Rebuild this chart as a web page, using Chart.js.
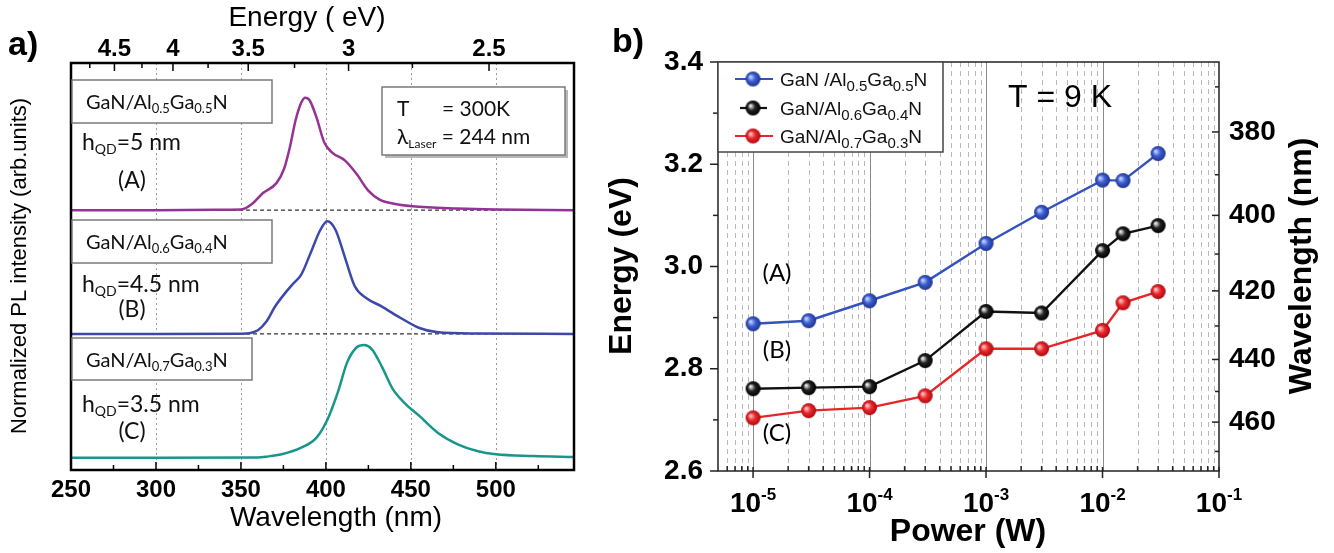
<!DOCTYPE html>
<html><head><meta charset="utf-8">
<script src="https://cdn.jsdelivr.net/npm/chart.js@4.4.1/dist/chart.umd.min.js"></script>
<style>
html,body{margin:0;padding:0;background:#fff;}
#wrap{position:relative;width:1334px;height:553px;overflow:hidden;background:#fff;}
#ca{position:absolute;left:0;top:0;}
#cb{position:absolute;left:600px;top:0;}
</style></head>
<body><div id="wrap"><canvas id="ca" width="600" height="553"></canvas><canvas id="cb" width="734" height="553"></canvas></div>
<script>
// ---------------- Panel a data: normalized PL spectra ----------------
const wlA = [250, 300, 335, 350.2, 356.3, 363, 370.9, 375.4, 378.8, 382.1, 385.5, 387.8, 390.4, 394.5, 399, 403.5, 411.3, 418, 424.8, 431.6, 439.4, 450.7, 477.6, 500, 546];
const plA = [0, 0, 0.004, 0.006, 0.048, 0.139, 0.219, 0.335, 0.509, 0.723, 0.87, 0.91, 0.889, 0.749, 0.549, 0.468, 0.401, 0.294, 0.161, 0.086, 0.054, 0.032, 0.013, 0.005, 0];
const wlB = [250, 300, 350, 355, 360, 365, 370, 376, 381, 385.5, 391, 396.7, 400.8, 405.7, 411, 417, 423.7, 432.7, 444, 455, 466, 489, 546];
const plB = [0, 0, 0.002, 0.006, 0.03, 0.1, 0.22, 0.33, 0.41, 0.48, 0.654, 0.84, 0.91, 0.84, 0.627, 0.385, 0.29, 0.223, 0.129, 0.048, 0.013, 0.003, 0];
const wlC = [250, 300, 360, 365, 374, 385.5, 394.5, 401, 407, 412.5, 418, 422.6, 427, 432.7, 439.4, 446, 455, 466, 477.6, 489, 500, 522, 546];
const plC = [0, 0, 0.002, 0.008, 0.027, 0.08, 0.162, 0.31, 0.527, 0.77, 0.89, 0.91, 0.877, 0.742, 0.553, 0.445, 0.337, 0.2, 0.108, 0.054, 0.027, 0.013, 0.005];
const stackOffsets = [2, 1, 0];            // vertical offsets of spectra A, B, C
const wlMajor = [250, 300, 350, 400, 450, 500];
const wlMinor = [275, 325, 375, 425, 475, 525];
const eMajorTop = [4.5, 4, 3.5, 3, 2.5];
const eMinorTop = [4.75, 4.25, 3.75, 3.25, 2.75];
const HC = 1240; // eV*nm

// ---------------- Panel b data: peak energy vs power ----------------
const powerW = [1e-5, 3e-5, 1e-4, 3e-4, 1e-3, 3e-3, 1e-2, 1.5e-2, 3e-2];
const energyA = [2.888, 2.894, 2.933, 2.969, 3.045, 3.106, 3.169, 3.168, 3.221];
const energyB = [2.761, 2.763, 2.765, 2.816, 2.912, 2.909, 3.031, 3.064, 3.080];
const energyC = [2.704, 2.718, 2.724, 2.747, 2.839, 2.839, 2.875, 2.929, 2.951];
const energyTicks = [2.6, 2.8, 3.0, 3.2, 3.4];
const energyMinor = [2.7, 2.9, 3.1, 3.3];
const lambdaTicks = [380, 400, 420, 440, 460];
const lambdaMinor = [370, 390, 410, 430, 450, 470];
const decades = [1e-5, 1e-4, 1e-3, 1e-2, 1e-1];
const decadeExp = ['-5', '-4', '-3', '-2', '-1'];

const FA = '"Liberation Sans", Arial, sans-serif';
const FL = 'Lato, "Open Sans", sans-serif';
const colA = 'rgb(150,50,150)', colB = 'rgb(60,72,170)', colC = 'rgb(25,150,140)';
const colBlue = 'rgb(52,82,190)', colBlack = '#111', colRed = 'rgb(232,38,42)';

function drawRich(ctx, x, y, parts, align) {
  let w = 0;
  parts.forEach(p => { ctx.font = p.f; p.w = ctx.measureText(p.t).width; w += p.w; });
  let cx = align === 'center' ? x - w / 2 : (align === 'right' ? x - w : x);
  ctx.textAlign = 'left'; ctx.textBaseline = 'alphabetic';
  parts.forEach(p => { ctx.font = p.f; ctx.fillText(p.t, cx, y + (p.dy || 0)); cx += p.w; });
}
function vText(ctx, text, x, y, font, rot) {
  ctx.save(); ctx.translate(x, y); ctx.rotate(rot); ctx.font = font;
  ctx.textAlign = 'center'; ctx.textBaseline = 'middle'; ctx.fillText(text, 0, 0); ctx.restore();
}
function line(ctx, x1, y1, x2, y2) { ctx.beginPath(); ctx.moveTo(x1, y1); ctx.lineTo(x2, y2); ctx.stroke(); }
function box(ctx, x1, y1, x2, y2, shadow, stroke) {
  if (shadow) { ctx.fillStyle = 'rgba(0,0,0,0.28)'; ctx.fillRect(x1 + 3, y1 + 3, x2 - x1, y2 - y1); }
  ctx.fillStyle = '#fff'; ctx.fillRect(x1, y1, x2 - x1, y2 - y1);
  ctx.strokeStyle = stroke || '#7a7a7a'; ctx.lineWidth = 1.5; ctx.setLineDash([]);
  ctx.strokeRect(x1, y1, x2 - x1, y2 - y1);
}

// ---------------- Panel a ----------------
const panelA = {
  id: 'panelA',
  beforeDatasetsDraw(chart) {
    const {ctx, chartArea: a, scales} = chart;
    ctx.save();
    ctx.strokeStyle = '#9a9a9a'; ctx.lineWidth = 1; ctx.setLineDash([2, 3]);
    wlMajor.slice(1).forEach(v => { const x = Math.round(scales.x.getPixelForValue(v)) + 0.5; line(ctx, x, a.top, x, a.bottom); });
    ctx.strokeStyle = '#333'; ctx.lineWidth = 1.2; ctx.setLineDash([4, 3]);
    [stackOffsets[0], stackOffsets[1]].forEach(o => { const y = scales.y.getPixelForValue(o); line(ctx, a.left, y, a.right, y); });
    ctx.restore();
  },
  afterDatasetsDraw(chart) {
    const {ctx, chartArea: a, scales} = chart;
    ctx.save();
    ctx.setLineDash([]); ctx.strokeStyle = '#000'; ctx.lineWidth = 1.5;
    wlMajor.forEach(v => { const x = scales.x.getPixelForValue(v); line(ctx, x, a.bottom, x, a.bottom - 8); });
    wlMinor.forEach(v => { const x = scales.x.getPixelForValue(v); line(ctx, x, a.bottom, x, a.bottom - 5); });
    eMajorTop.forEach(e => { const x = scales.x.getPixelForValue(HC / e); line(ctx, x, a.top, x, a.top + 8); });
    eMinorTop.forEach(e => { const x = scales.x.getPixelForValue(HC / e); line(ctx, x, a.top, x, a.top + 5); });
    ctx.lineWidth = 2.5; ctx.strokeRect(a.left, a.top, a.right - a.left, a.bottom - a.top);
    // boxes
    box(ctx, 72, 80, 272, 123);
    box(ctx, 72, 220, 272, 263);
    box(ctx, 72, 338, 252, 380);
    box(ctx, 382, 87, 565, 155, true);
    ctx.fillStyle = '#111';
    const big = '20px ' + FL, sub = '13px ' + FL;
    drawRich(ctx, 86, 109, [{t: 'GaN/Al', f: big}, {t: '0.5', f: sub, dy: 4}, {t: 'Ga', f: big}, {t: '0.5', f: sub, dy: 4}, {t: 'N', f: big}]);
    drawRich(ctx, 86, 249, [{t: 'GaN/Al', f: big}, {t: '0.6', f: sub, dy: 4}, {t: 'Ga', f: big}, {t: '0.4', f: sub, dy: 4}, {t: 'N', f: big}]);
    drawRich(ctx, 86, 367, [{t: 'GaN/Al', f: big}, {t: '0.7', f: sub, dy: 4}, {t: 'Ga', f: big}, {t: '0.3', f: sub, dy: 4}, {t: 'N', f: big}]);
    const hf = '23px ' + FL, hs = '14px ' + FL;
    drawRich(ctx, 82, 150, [{t: 'h', f: hf}, {t: 'QD', f: hs, dy: 4}, {t: '=5 nm', f: hf}]);
    drawRich(ctx, 82, 292, [{t: 'h', f: hf}, {t: 'QD', f: hs, dy: 4}, {t: '=4.5 nm', f: hf}]);
    drawRich(ctx, 82, 412, [{t: 'h', f: hf}, {t: 'QD', f: hs, dy: 4}, {t: '=3.5 nm', f: hf}]);
    ctx.font = '23px ' + FL; ctx.textAlign = 'center'; ctx.textBaseline = 'middle';
    ctx.fillText('(A)', 132, 181); ctx.fillText('(B)', 132, 310); ctx.fillText('(C)', 132, 432);
    const tf = '21px ' + FL, ts = '12px ' + FL;
    drawRich(ctx, 397, 116, [{t: 'T', f: tf}]);
    drawRich(ctx, 442, 116, [{t: '= 300K', f: tf}]);
    drawRich(ctx, 397, 144, [{t: '\u03bb', f: tf}, {t: 'Laser', f: ts, dy: 4}, {t: ' = 244 nm', f: tf}]);
    // titles
    ctx.fillStyle = '#000';
    vText(ctx, 'Energy ( eV)', 307, 18, '28px ' + FA, 0);
    vText(ctx, 'Wavelength (nm)', 336, 518, '28px ' + FA, 0);
    vText(ctx, 'Normalized PL intensity (arb.units)', 20, 266, '22px ' + FA, -Math.PI / 2);
    ctx.font = 'bold 34px ' + FA; ctx.textAlign = 'left'; ctx.textBaseline = 'alphabetic';
    ctx.fillText('a)', 8, 55);
    ctx.restore();
  }
};

function spectrum(wl, pl, off, col) {
  return {data: wl.map((w, i) => ({x: w, y: pl[i] + off})), borderColor: col, borderWidth: 2.5,
          pointRadius: 0, tension: 0.4, cubicInterpolationMode: 'monotone', fill: false};
}

new Chart(document.getElementById('ca'), {
  type: 'line',
  data: {datasets: [spectrum(wlA, plA, stackOffsets[0], colA), spectrum(wlB, plB, stackOffsets[1], colB), spectrum(wlC, plC, stackOffsets[2], colC)]},
  options: {
    responsive: false, animation: false, devicePixelRatio: 1,
    layout: {padding: {left: 0, right: 26, top: 0, bottom: 0}},
    plugins: {legend: {display: false}, tooltip: {enabled: false}},
    scales: {
      x: {type: 'linear', position: 'bottom', min: 250, max: 546,
          afterBuildTicks: s => { s.ticks = wlMajor.concat(wlMinor).sort((p, q) => p - q).map(v => ({value: v})); },
          afterFit: s => { s.height = 83; },
          ticks: {autoSkip: false, maxRotation: 0, padding: 6, color: '#000', font: {family: FA, size: 24, weight: 'bold'},
                  callback: v => wlMajor.includes(v) ? String(v) : ''},
          grid: {display: false, drawTicks: false}, border: {display: false}},
      xt: {type: 'linear', axis: 'x', position: 'top', min: 250, max: 546,
          afterBuildTicks: s => { s.ticks = eMajorTop.concat(eMinorTop).map(e => ({value: HC / e})).sort((p, q) => p.value - q.value); },
          afterFit: s => { s.height = 63; },
          ticks: {autoSkip: false, maxRotation: 0, padding: -1, color: '#000', font: {family: FA, size: 24, weight: 'bold'},
                  callback: v => { const e = eMajorTop.find(E => Math.abs(HC / E - v) < 1e-6); return e === undefined ? '' : String(e); }},
          grid: {display: false, drawTicks: false}, border: {display: false}},
      y: {type: 'linear', min: -0.1, max: 3.19, ticks: {display: false},
          afterFit: s => { s.width = 71; },
          grid: {display: false, drawTicks: false}, border: {display: false}}
    }
  },
  plugins: [panelA]
});

// ---------------- Panel b ----------------
function ball(color, hi, dark, r) {
  const s = 2 * r + 2, c = document.createElement('canvas'); c.width = s; c.height = s;
  const g = c.getContext('2d');
  const gr = g.createRadialGradient(s / 2 - r * 0.35, s / 2 - r * 0.3, r * 0.1, s / 2, s / 2, r);
  gr.addColorStop(0, hi); gr.addColorStop(0.45, color); gr.addColorStop(1, dark);
  g.fillStyle = gr; g.beginPath(); g.arc(s / 2, s / 2, r, 0, Math.PI * 2); g.fill();
  return c;
}
const ballBlue = ball('rgb(60,95,210)', 'rgb(190,205,255)', 'rgb(30,50,140)', 7.5);
const ballBlack = ball('#222', '#e8e8e8', '#000', 7.5);
const ballRed = ball('rgb(235,40,45)', 'rgb(255,190,190)', 'rgb(170,10,15)', 7.5);

const panelB = {
  id: 'panelB',
  beforeDatasetsDraw(chart) {
    const {ctx, chartArea: a, scales} = chart;
    ctx.save();
    ctx.lineWidth = 1;
    ctx.strokeStyle = '#b8b8b8'; ctx.setLineDash([5, 4]);
    for (let d = 1e-6; d < 0.1; d *= 10) {
      for (let k = 2; k <= 9; k++) {
        const v = k * d; if (v < 5e-6 || v > 0.1) continue;
        const x = Math.round(scales.x.getPixelForValue(v)) + 0.5; line(ctx, x, a.top, x, a.bottom);
      }
    }
    ctx.strokeStyle = '#8a8a8a'; ctx.setLineDash([]);
    decades.slice(0, 4).forEach(v => { const x = Math.round(scales.x.getPixelForValue(v)) + 0.5; line(ctx, x, a.top, x, a.bottom); });
    ctx.restore();
  },
  afterDatasetsDraw(chart) {
    const {ctx, chartArea: a, scales} = chart;
    ctx.save();
    ctx.setLineDash([]); ctx.strokeStyle = '#222'; ctx.lineWidth = 1.5;
    ctx.strokeRect(a.left, a.top, a.right - a.left, a.bottom - a.top);
    // bottom ticks
    decades.forEach(v => { const x = scales.x.getPixelForValue(v); line(ctx, x, a.bottom - 4, x, a.bottom + 7); });
    for (let d = 1e-6; d < 0.1; d *= 10) for (let k = 2; k <= 9; k++) {
      const v = k * d; if (v < 5e-6 || v > 0.1) continue;
      const x = scales.x.getPixelForValue(v); line(ctx, x, a.bottom, x, a.bottom - 5);
    }
    // left ticks (outward)
    energyTicks.forEach(v => { const y = scales.y.getPixelForValue(v); line(ctx, a.left - 8, y, a.left, y); });
    energyMinor.forEach(v => { const y = scales.y.getPixelForValue(v); line(ctx, a.left - 5, y, a.left, y); });
    // right ticks (inward)
    lambdaTicks.forEach(l => { const y = scales.y2.getPixelForValue(HC / l); line(ctx, a.right - 7, y, a.right, y); });
    lambdaMinor.forEach(l => { const y = scales.y2.getPixelForValue(HC / l); line(ctx, a.right - 4, y, a.right, y); });
    // bottom tick labels 10^n
    ctx.fillStyle = '#000';
    decades.forEach((v, i) => {
      const x = scales.x.getPixelForValue(v);
      drawRich(ctx, x, 512, [{t: '10', f: 'bold 28px ' + FA}, {t: decadeExp[i], f: 'bold 17px ' + FA, dy: -12}], 'center');
    });
    // legend (local canvas coordinates)
    box(ctx, a.left, a.top, 343, 152, false, '#444');
    const items = [[colBlue, ballBlue, 'GaN /Al', '0.5', '0.5', 79, 135, 173],
                   [colBlack, ballBlack, 'GaN/Al', '0.6', '0.4', 108, 140, 167],
                   [colRed, ballRed, 'GaN/Al', '0.7', '0.3', 136, 135, 173]];
    items.forEach(([c, img, pre, s1, s2, y, x1, x2]) => {
      ctx.strokeStyle = c; ctx.lineWidth = 2.2; line(ctx, x1, y, x2, y);
      ctx.drawImage(img, 153 - img.width / 2, y - img.height / 2);
      ctx.fillStyle = '#111';
      const m = '19px ' + FA, sb = '15px ' + FA;
      drawRich(ctx, 180, y + 7, [{t: pre, f: m}, {t: s1, f: sb, dy: 5}, {t: 'Ga', f: m}, {t: s2, f: sb, dy: 5}, {t: 'N', f: m}]);
    });
    // annotations
    ctx.fillStyle = '#000';
    ctx.font = '32px ' + FA; ctx.textAlign = 'center'; ctx.textBaseline = 'middle';
    ctx.fillText('T = 9 K', 460, 98);
    ctx.font = '24px ' + FL;
    ctx.fillText('(A)', 177, 273); ctx.fillText('(B)', 177, 350); ctx.fillText('(C)', 177, 433);
    // titles
    vText(ctx, 'Energy (eV)', 22, 266, 'bold 32px ' + FA, -Math.PI / 2);
    vText(ctx, 'Power (W)', 368, 532, 'bold 32px ' + FA, 0);
    vText(ctx, 'Wavelength (nm)', 702, 266, 'bold 32px ' + FA, -Math.PI / 2);
    ctx.font = 'bold 34px ' + FA; ctx.textAlign = 'left'; ctx.textBaseline = 'alphabetic';
    ctx.fillText('b)', 12, 52);
    ctx.restore();
  }
};

function series(vals, col, img) {
  return {data: powerW.map((p, i) => ({x: p, y: vals[i]})), borderColor: col, borderWidth: 2.4,
          pointStyle: img, pointRadius: 7, tension: 0, fill: false, yAxisID: 'y'};
}

new Chart(document.getElementById('cb'), {
  type: 'line',
  data: {datasets: [series(energyA, colBlue, ballBlue), series(energyB, colBlack, ballBlack), series(energyC, colRed, ballRed)]},
  options: {
    responsive: false, animation: false, devicePixelRatio: 1,
    layout: {padding: {left: 0, right: 0, top: 62, bottom: 0}},
    plugins: {legend: {display: false}, tooltip: {enabled: false}},
    scales: {
      x: {type: 'logarithmic', min: 5e-6, max: 0.1, ticks: {display: false},
          afterFit: s => { s.height = 82; },
          grid: {display: false, drawTicks: false}, border: {display: false}},
      y: {type: 'linear', position: 'left', min: 2.6, max: 3.4,
          afterBuildTicks: s => { s.ticks = energyTicks.map(v => ({value: v})); },
          afterFit: s => { s.width = 118; },
          ticks: {padding: 15, color: '#000', font: {family: FA, size: 28, weight: 'bold'}, callback: v => Number(v).toFixed(1)},
          grid: {display: false, drawTicks: false}, border: {display: false}},
      y2: {type: 'linear', position: 'right', min: 2.6, max: 3.4,
          afterBuildTicks: s => { s.ticks = lambdaTicks.map(l => ({value: HC / l})); },
          afterFit: s => { s.width = 115; },
          ticks: {padding: 10, color: '#000', font: {family: FA, size: 28, weight: 'bold'}, callback: v => String(Math.round(HC / v))},
          grid: {display: false, drawTicks: false}, border: {display: false}}
    }
  },
  plugins: [panelB]
});
</script>
</body></html>
